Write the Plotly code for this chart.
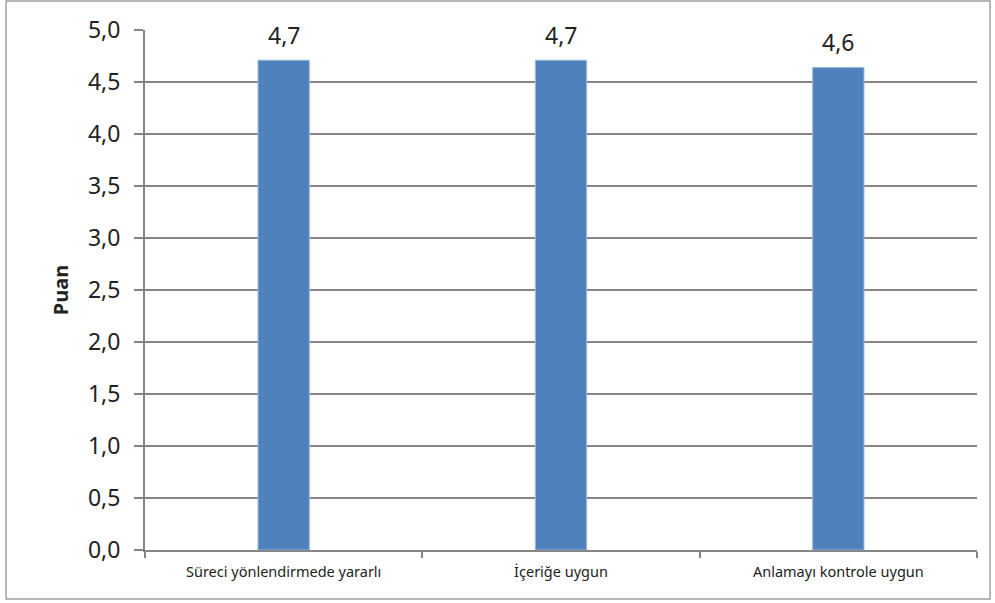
import plotly.graph_objects as go

categories = ["Süreci yönlendirmede yararlı", "İçeriğe uygun", "Anlamayı kontrole uygun"]
scores = [4.71, 4.71, 4.64]
y_ticks = [0, 0.5, 1, 1.5, 2, 2.5, 3, 3.5, 4, 4.5, 5]

GRID = "#868686"

fig = go.Figure()
fig.add_trace(go.Bar(
    x=categories, y=scores,
    width=0.185,
    marker=dict(color="#4F81BD", line=dict(color="#9DB9DE", width=1)),
))

# value labels above bars, shown with one decimal
for cat, val in zip(categories, scores):
    fig.add_annotation(
        x=cat, y=val, text=f"{val:.1f}".replace(".", ","),
        showarrow=False, yanchor="bottom", yshift=7,
        font=dict(size=23, color="#222222"),
    )

# outer chart frame
fig.add_shape(type="rect", xref="paper", yref="paper",
              x0=-0.167, x1=1.0156, y0=-0.094, y1=1.0558,
              line=dict(color="#A0A0A0", width=1.5), layer="below")

fig.update_layout(
    width=995, height=603,
    margin=dict(l=145, r=18, t=30, b=53),
    paper_bgcolor="white", plot_bgcolor="white",
    separators=",.",
    showlegend=False,
    font=dict(family="Noto Sans", color="#222222"),
    xaxis=dict(
        tickson="boundaries", ticks="outside", ticklen=6, tickwidth=2,
        tickcolor=GRID, showline=True, linecolor=GRID, linewidth=2,
        tickfont=dict(size=14.5), showgrid=False, ticklabelstandoff=8,
    ),
    yaxis=dict(
        range=[0, 5], tickvals=y_ticks, tickformat=".1f",
        ticks="outside", ticklen=9, tickwidth=2, tickcolor=GRID,
        showline=True, linecolor=GRID, linewidth=2,
        showgrid=True, gridcolor=GRID, gridwidth=2,
        tickfont=dict(size=23), zeroline=False, ticklabelstandoff=9,
        title=dict(text="<b>Puan</b>", font=dict(size=20), standoff=14),
    ),
)

fig.write_html("out.html", config={"displayModeBar": False},
               post_script="document.body.style.margin='0';")
